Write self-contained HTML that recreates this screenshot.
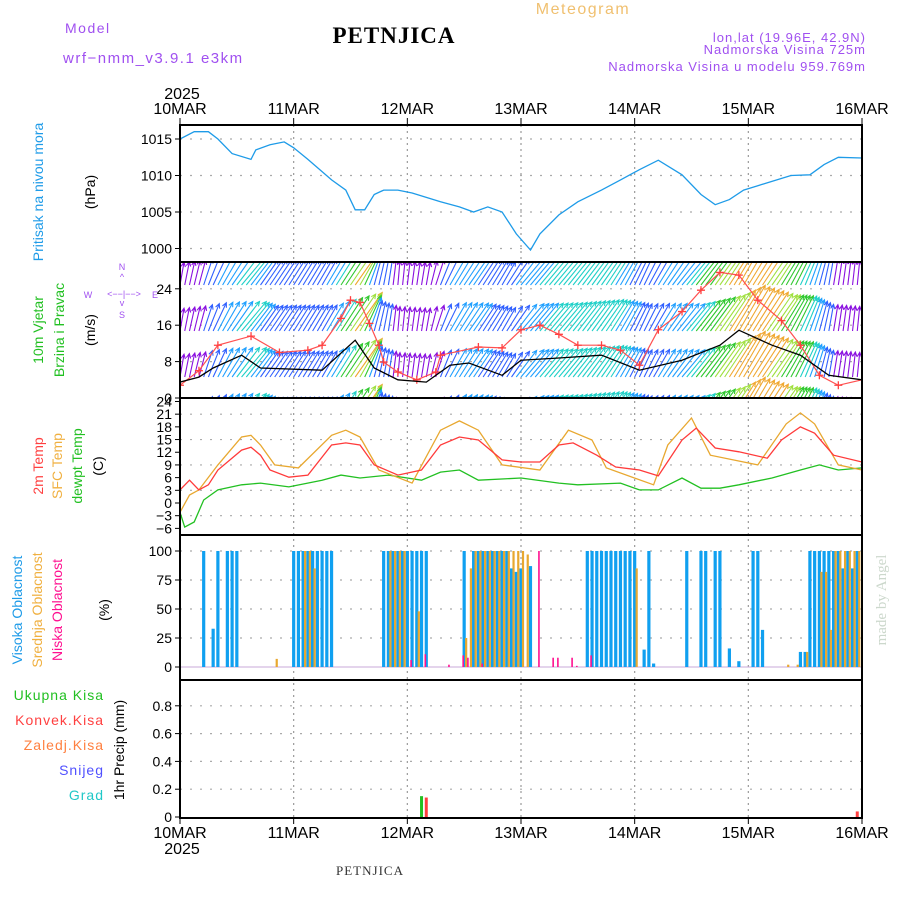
<!DOCTYPE html>
<html><head><meta charset="utf-8"><style>
html,body{margin:0;padding:0;background:#fff}
svg{display:block}
text{font-family:"Liberation Sans",sans-serif}
text.serif{font-family:"Liberation Serif",serif}
</style></head><body>
<svg id="c" width="900" height="900" viewBox="0 0 900 900" xmlns="http://www.w3.org/2000/svg">
<g>
<text x="65" y="33" font-size="14" fill="#a050f0" letter-spacing="1.5">Model</text>
<text x="63" y="63" font-size="15" fill="#a050f0" letter-spacing="1.5">wrf−nmm_v3.9.1 e3km</text>
<text class="serif" x="394" y="43" font-size="23" font-weight="bold" text-anchor="middle" fill="#000" letter-spacing="1">PETNJICA</text>
<text x="583" y="14" font-size="16" fill="#f0c070" text-anchor="middle" letter-spacing="1.5">Meteogram</text>
<text x="866" y="42" font-size="13" fill="#a050f0" text-anchor="end" letter-spacing="1">lon,lat (19.96E, 42.9N)</text>
<text x="866" y="54" font-size="13" fill="#a050f0" text-anchor="end" letter-spacing="1">Nadmorska Visina 725m</text>
<text x="866" y="71" font-size="13" fill="#a050f0" text-anchor="end" letter-spacing="1">Nadmorska Visina u modelu 959.769m</text>
<text class="serif" x="370" y="875" font-size="13" fill="#333" text-anchor="middle" letter-spacing="1">PETNJICA</text>
<text class="serif" transform="translate(886,600) rotate(-90)" font-size="15" fill="#ccd8cc" text-anchor="middle">made by Angel</text>
</g>
<g>
<text transform="translate(43,192) rotate(-90)" font-size="14" fill="#1e9be8" text-anchor="middle">Pritisak na nivou mora</text>
<text transform="translate(95,192) rotate(-90)" font-size="14" fill="#000" text-anchor="middle">(hPa)</text>
<text transform="translate(43,330) rotate(-90)" font-size="14" fill="#22c022" text-anchor="middle">10m Vjetar</text>
<text transform="translate(64,330) rotate(-90)" font-size="14" fill="#22c022" text-anchor="middle">Brzina i Pravac</text>
<text transform="translate(95,330) rotate(-90)" font-size="14" fill="#000" text-anchor="middle">(m/s)</text>
<g fill="#a050f0" font-size="9" text-anchor="middle">
<text x="88" y="298">W</text><text x="124" y="297">&lt;−−|−−&gt;</text><text x="155" y="298">E</text>
<text x="122" y="270">N</text><text x="122" y="280">^</text><text x="122" y="306">v</text><text x="122" y="318">S</text>
</g>
<text transform="translate(43,466) rotate(-90)" font-size="14" fill="#ff4040" text-anchor="middle">2m Temp</text>
<text transform="translate(62,466) rotate(-90)" font-size="14" fill="#f0b040" text-anchor="middle">SFC Temp</text>
<text transform="translate(82,466) rotate(-90)" font-size="14" fill="#22c022" text-anchor="middle">dewpt Temp</text>
<text transform="translate(103,466) rotate(-90)" font-size="14" fill="#000" text-anchor="middle">(C)</text>
<text transform="translate(22,610) rotate(-90)" font-size="14" fill="#1e9be8" text-anchor="middle">Visoka Oblacnost</text>
<text transform="translate(42,610) rotate(-90)" font-size="14" fill="#f0b040" text-anchor="middle">Srednja Oblacnost</text>
<text transform="translate(62,610) rotate(-90)" font-size="14" fill="#ff1090" text-anchor="middle">Niska Oblacnost</text>
<text transform="translate(109,610) rotate(-90)" font-size="14" fill="#000" text-anchor="middle">(%)</text>
<g font-size="14" text-anchor="end" letter-spacing="1">
<text x="104" y="700" fill="#22c022">Ukupna  Kisa</text>
<text x="104" y="725" fill="#ff4040">Konvek.Kisa</text>
<text x="104" y="750" fill="#ff8040">Zaledj.Kisa</text>
<text x="104" y="775" fill="#5050ff">Snijeg</text>
<text x="104" y="800" fill="#20c8c8">Grad</text>
</g>
<text transform="translate(124,750) rotate(-90)" font-size="14" fill="#000" text-anchor="middle">1hr Precip (mm)</text>
</g>
</svg>
<script>
// ---- data ----
const days = ["10MAR","11MAR","12MAR","13MAR","14MAR","15MAR","16MAR"];
const presHours = [0,3,6,8,11,15,16,19,22,24,27,32,35,37,39,41,43,46,49,52,55,59,62,65,68,71,74,76,80,84,89,93,97,101,106,110,113,116,119,122,126,129,133,136,139,144];
const presVals  = [1015,1016,1016,1015,1013,1012.2,1013.5,1014.2,1014.6,1013.8,1012.2,1009.4,1008,1005.3,1005.3,1007.4,1008,1008,1007.6,1007,1006.4,1005.7,1005,1005.7,1005,1002,999.8,1002,1004.6,1006.4,1008,1009.4,1010.8,1012.1,1010.1,1007.4,1006,1006.7,1008,1008.6,1009.4,1010,1010.1,1011.5,1012.5,1012.4];
const windHours = [0,4,7,13,17,30,37,41,46,52,57,61,68,72,80,89,97,106,114,118,125,131,137,144];
const windSpeed = [3.5,4.6,6.6,9.4,6.6,6.1,12.7,6.6,4,3.5,7.2,7.7,5,8.3,8.8,9.4,6.1,8.3,11.6,14.9,11.6,9.4,5,4];
const windDir   = [10,15,25,40,35,30,35,15,5,10,30,35,30,40,40,35,25,40,35,30,35,25,10,5];
const gustHours = [0,4,8,15,21,27,30,34,36,38,40,42,43,46,50,54,55,63,68,72,76,80,84,89,93,97,101,106,110,114,118,122,127,131,135,139,144];
const gustVals  = [2.8,6,11.6,13.6,10,10.5,11.6,17.5,21.5,21,16.4,11.6,7.9,5.7,4,5.7,9.4,11.2,11,15,16,14,11.6,11.6,10.5,7.2,15,19,23.7,27.6,27,21.5,17,11.6,5,2.8,4];
const t2Hours = [0,2,4,6,8,13,15,17,19,23,27,32,35,38,41,46,51,55,59,63,68,72,76,80,83,88,92,97,101,106,109,113,118,124,127,131,134,138,144];
const t2Vals  = [3.1,5.4,3.1,4.3,7.8,12.5,13.2,11.3,7.8,6.1,6.6,13.7,14.2,13.7,9,6.6,7.8,13.7,15.6,14.9,10.2,9.7,9.7,13.7,14.2,11.3,8.5,7.8,6.4,14.9,17.7,13,12.1,10.6,14.9,18,16.5,11.3,9.7];
const sfcHours = [0,2,4,8,13,15,17,20,25,32,35,38,42,49,55,59,63,68,76,82,87,90,100,103,108,112,122,128,131,134,139,144];
const sfcVals  = [-2.2,1.9,3.1,9,15.6,16,13.7,9,8.3,16,17.2,15.6,7.8,4.7,17.2,19.4,17.2,9,7.8,17.2,14.9,8.3,4.3,13.7,20.1,11.3,9,18.7,21.3,18.7,9,7.8];
const tdHours = [0,1,3,5,8,13,17,23,30,34,38,44,51,55,59,63,72,80,84,93,97,101,106,110,114,118,125,131,135,139,144];
const tdVals  = [-2.2,-5.7,-4.5,0.7,3.1,4.3,4.7,3.8,5.4,6.6,5.9,6.6,5.4,7.3,7.8,5.4,5.9,4.7,4.3,4.7,3.1,3.1,5.9,3.5,3.5,4.3,5.9,7.8,9,7.8,8.3];
const hiHours = [5,7,8,10,11,12,24,25,26,27,28,29,30,31,32,43,44,45,46,47,48,49,50,51,52,60,62,63,64,65,66,67,68,69,70,71,72,74,86,87,88,89,90,91,92,93,94,95,96,98,99,100,107,110,111,113,114,116,118,121,122,123,131,132,133,134,135,136,137,138,139,140,141,142,143];
const hiVals  = [100,33,100,100,100,100,100,100,100,100,100,100,100,100,100,100,100,100,100,100,100,100,100,100,100,100,100,100,100,100,100,100,100,100,85,82,85,87,100,100,100,100,100,100,100,100,100,100,100,15,100,3,100,100,100,100,100,16,5,100,100,32,13,13,100,100,100,100,100,100,100,85,100,85,100];
const midHours = [20,26,27,28,44,45,46,47,50,60,61,62,63,64,65,66,67,68,69,70,71,72,73,96,128,130,132,135,136,137,138,139,140,141,142,143];
const midVals  = [7,100,100,85,100,100,100,100,48,25,85,100,100,100,100,100,100,100,100,100,100,100,97,85,2,2,13,82,82,32,100,100,100,100,100,100];
const lowHours = [49,52,57,60,61,64,76,79,80,83,84,87];
const lowVals  = [6,11,2,10,8,3,100,8,8,8,1,10];
const rainTotHours = [51];
const rainTotVals  = [0.15];
const rainConvHours = [52,143];
const rainConvVals  = [0.14,0.04];

// ---- axes ----
const X0=180, X1=862, NH=144;
const xs = h => X0 + (X1-X0)*h/NH;
const yPres = v => 139 + (1015-v)*7.3;
const yWind = v => 398 - v*4.55;
const yTemp = v => 503 - v*4.23;
const yCloud = v => 667 - v*1.16;
const yPrec = v => 817 - v*139;
const P = [[125,262],[262,398],[398,535],[535,680],[680,818]];

const NS="http://www.w3.org/2000/svg";
const svg=document.getElementById('c');
function mk(tag,attrs,parent){const e=document.createElementNS(NS,tag);for(const k in attrs)e.setAttribute(k,attrs[k]);(parent||svg).appendChild(e);return e;}
function interp(H,V,h){if(h<=H[0])return V[0];for(let i=1;i<H.length;i++){if(h<=H[i]){const t=(h-H[i-1])/(H[i]-H[i-1]);return V[i-1]+t*(V[i]-V[i-1]);}}return V[V.length-1];}
function pathFrom(H,V,fy){return H.map((h,i)=>(i?'L':'M')+xs(h).toFixed(1)+','+fy(V[i]).toFixed(1)).join('');}

const defs=mk('defs',{});
P.forEach((p,i)=>{const cp=mk('clipPath',{id:'cp'+i},defs);mk('rect',{x:X0,y:p[0],width:X1-X0,height:p[1]-p[0]},cp);});

const grid=mk('g',{});


for(let d=1;d<6;d++){mk('line',{x1:xs(d*24),x2:xs(d*24),y1:125,y2:818,stroke:'#999','stroke-dasharray':'2,4','stroke-width':1.2},grid);}
function hgrid(vals,fy,pi){vals.forEach(v=>{const y=fy(v);mk('line',{x1:X0,x2:X1,y1:y,y2:y,stroke:'#aaa','stroke-dasharray':'2,8','stroke-width':1.2,'clip-path':'url(#cp'+pi+')'},grid);});}
hgrid([1000,1005,1010,1015],yPres,0);
hgrid([8,16,24],yWind,1);
hgrid([-3,3,9,15,21],yTemp,2);
hgrid([25,50,75,100],yCloud,3);
hgrid([0.2,0.4,0.6,0.8],yPrec,4);

function yticks(vals,fy,name){const g=mk('g',{});
 vals.forEach(v=>{const y=fy(v);mk('line',{x1:X0-5,x2:X0,y1:y,y2:y,stroke:'#000'},g);const t=mk('text',{x:X0-8,y:y+5,'font-size':14,'text-anchor':'end',fill:'#000'},g);t.textContent=String(v).replace('-','−');});}
yticks([1000,1005,1010,1015],yPres,'pressure-y-axis');
yticks([0,8,16,24],yWind,'wind-y-axis');
yticks([-6,-3,0,3,6,9,12,15,18,21,24],yTemp,'temp-y-axis');
yticks([0,25,50,75,100],yCloud,'cloud-y-axis');
yticks([0,0.2,0.4,0.6,0.8],yPrec,'precip-y-axis');

const pl=mk('path',{d:pathFrom(presHours,presVals,yPres),fill:'none',stroke:'#1e9be8','stroke-width':1.3,'clip-path':'url(#cp0)'});



function windColor(s){if(s<5)return '#8a10e0';if(s<7)return '#3060ff';if(s<8.5)return '#20a0ff';if(s<9.5)return '#20d0c8';if(s<11)return '#30c830';if(s<12.5)return '#a0e040';return '#f0a830';}
const wg=mk('g',{'clip-path':'url(#cp1)'});


[285,331,377,423].forEach(yb=>{
 for(let h=0;h<=NH;h++){
  const s=interp(windHours,windSpeed,h), d=interp(windHours,windDir,h)*Math.PI/180;
  const L=14+s*2.6, x=xs(h), x2=x+L*Math.sin(d), y2=yb-L*Math.cos(d);
  const c=windColor(s);
  const a1=d+Math.PI-0.45,a2=d+Math.PI+0.45;
  const ar=mk('path',{d:`M${x},${yb}L${x2},${y2}M${x2+5*Math.sin(a1)},${y2-5*Math.cos(a1)}L${x2},${y2}L${x2+5*Math.sin(a2)},${y2-5*Math.cos(a2)}`,stroke:c,'stroke-width':1.1,fill:'none'},wg);
  
  
 }
});
const gl=mk('path',{d:pathFrom(gustHours,gustVals,yWind),fill:'none',stroke:'#ff5050','stroke-width':1.2,'clip-path':'url(#cp1)'});


gustHours.forEach((h,i)=>{const x=xs(h),y=yWind(gustVals[i]);const m=mk('path',{d:`M${x-4},${y}h8M${x},${y-4}v8`,stroke:'#ff4040','stroke-width':1.3,'clip-path':'url(#cp1)'});
 
 });
const sl=mk('path',{d:pathFrom(windHours,windSpeed,yWind),fill:'none',stroke:'#000','stroke-width':1.3,'clip-path':'url(#cp1)'});



const tdl=mk('path',{d:pathFrom(tdHours,tdVals,yTemp),fill:'none',stroke:'#22c022','stroke-width':1.3,'clip-path':'url(#cp2)'});


const sfl=mk('path',{d:pathFrom(sfcHours,sfcVals,yTemp),fill:'none',stroke:'#e8a830','stroke-width':1.3,'clip-path':'url(#cp2)'});


const t2l=mk('path',{d:pathFrom(t2Hours,t2Vals,yTemp),fill:'none',stroke:'#ff3a3a','stroke-width':1.3,'clip-path':'url(#cp2)'});



mk('line',{x1:X0,x2:X1,y1:yCloud(0),y2:yCloud(0),stroke:'#c8a8d8','stroke-width':1});
function bars(H,V,fy,color,w,off,name){H.forEach((h,i)=>{const y=fy(V[i]),y0=fy(0);const r=mk('rect',{x:xs(h)-w/2+off,y:y,width:w,height:Math.max(0.5,y0-y),fill:color});
 
 });}
bars(hiHours,hiVals,yCloud,'#10a0f0',3.2,0,'high-cloud-bar');
bars(midHours,midVals,yCloud,'#e8a830',2.2,2,'mid-cloud-bar');
bars(lowHours,lowVals,yCloud,'#ff1090',1.6,-1,'low-cloud-bar');

bars(rainTotHours,rainTotVals,yPrec,'#22c022',3,0,'total-rain-bar');
bars(rainConvHours,rainConvVals,yPrec,'#ff4040',3,0,'convective-rain-bar');

P.forEach((p,i)=>{const r=mk('rect',{x:X0,y:p[0],width:X1-X0,height:p[1]-p[0],fill:'none',stroke:'#000','stroke-width':2});
 
 });
const xt=mk('g',{});


days.forEach((d,i)=>{const x=xs(i*24);
 const a=mk('text',{x:x,y:114,'font-size':16,'text-anchor':'middle',fill:'#000'},xt);a.textContent=d;
 const b=mk('text',{x:x,y:838,'font-size':16,'text-anchor':'middle',fill:'#000'},xt);b.textContent=d;
 mk('line',{x1:x,x2:x,y1:118,y2:125,stroke:'#000'},xt);mk('line',{x1:x,x2:x,y1:818,y2:824,stroke:'#000'},xt);});
const y1=mk('text',{x:182,y:99,'font-size':16,'text-anchor':'middle',fill:'#000'},xt);y1.textContent='2025';
const y2=mk('text',{x:182,y:854,'font-size':16,'text-anchor':'middle',fill:'#000'},xt);y2.textContent='2025';
</script>
</body></html>
